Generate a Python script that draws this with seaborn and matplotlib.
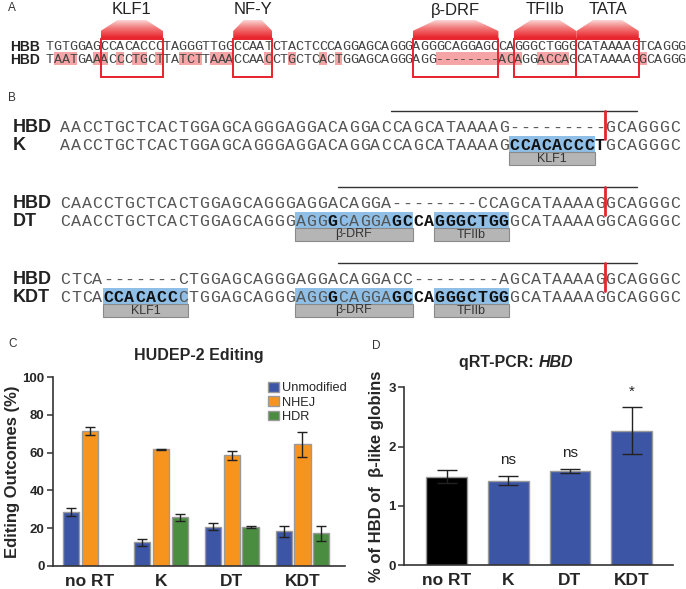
import numpy as np
import pandas as pd
import matplotlib
matplotlib.use("Agg")
import matplotlib.pyplot as plt
import seaborn as sns
from matplotlib.patches import Rectangle, Polygon
from matplotlib.colors import LinearSegmentedColormap

sns.set_theme(style="ticks")
plt.rcParams['font.family'] = ['Liberation Sans', 'DejaVu Sans']

# ---- panel A: promoter alignment ----
hbb_seq = ("TGTGGAG" "CCACACCC" "TAGGGTTGG" "CCAAT" "CTACTCCCAGGAGCAGGG"
           "AGGGCAGGAGC" "CA" "GGGCTGGG" "CATAAAAG" "TCAGGG")
hbd_seq = ("TAATGAA" "ACCCTGCT" "TATCTTAAA" "CCAAC" "CTGCTCACTGGAGCAGGG"
           "AGG--------" "AC" "AGGACCAG" "CATAAAAG" "GCAGGG")
motifs = ["KLF1", "NF-Y", "β-DRF", "TFIIb", "TATA"]
motif_start = [7, 24, 47, 60, 68]
motif_end = [15, 29, 58, 68, 76]

# ---- panel B: edited alleles (text, style) n=normal h=blue b=bold bh=bold+blue ----
block_names = ["K", "DT", "KDT"]
hbd_rows = [
    "AACCTGCTCACTGGAGCAGGGAGGACAGGACCAGCATAAAAG---------GCAGGGC",
    "CAACCTGCTCACTGGAGCAGGGAGGACAGGA--------CCAGCATAAAAGGCAGGGC",
    "CTCA-------CTGGAGCAGGGAGGACAGGACC--------AGCATAAAAGGCAGGGC",
]
edit_rows = [
    [("AACCTGCTCACTGGAGCAGGGAGGACAGGACCAGCATAAAAG", "n"), ("CCACACCC", "bh"),
     ("T", "b"), ("GCAGGGC", "n")],
    [("CAACCTGCTCACTGGAGCAGGG", "n"), ("AGG", "h"), ("G", "bh"), ("CAGGA", "h"),
     ("GC", "bh"), ("CA", "b"), ("GGGCTGG", "bh"), ("GCATAAAAGGCAGGGC", "n")],
    [("CTCA", "n"), ("CCACACC", "bh"), ("C", "h"), ("TGGAGCAGGG", "n"), ("AGG", "h"),
     ("G", "bh"), ("CAGGA", "h"), ("GC", "bh"), ("CA", "b"), ("GGGCTGG", "bh"),
     ("GCATAAAAGGCAGGGC", "n")],
]
block_tags = [
    [("KLF1", 42, 50)],
    [("β-DRF", 22, 33), ("TFIIb", 35, 42)],
    [("KLF1", 4, 12), ("β-DRF", 22, 33), ("TFIIb", 35, 42)],
]
overline_cols = [(31, 54), (26, 54), (26, 54)]
cut_col = 51

# ---- panel C: editing outcomes ----
samples = ["no RT", "K", "DT", "KDT"]
outcomes = ["Unmodified", "NHEJ", "HDR"]
unmod_mean = [28.7, 12.5, 20.8, 18.3]
unmod_err = [2.2, 1.7, 2.0, 2.8]
nhej_mean = [71.5, 61.8, 58.5, 64.4]
nhej_err = [2.2, 0.3, 2.3, 6.6]
hdr_mean = [0.0, 25.8, 20.6, 17.3]
hdr_err = [0.0, 1.9, 0.5, 3.9]

# ---- panel D: qRT-PCR ----
qpcr_mean = [1.49, 1.42, 1.58, 2.27]
qpcr_err = [0.11, 0.075, 0.035, 0.39]
qpcr_sig = ["", "ns", "ns", "*"]

blue = "#3d55a5"
orange = "#f7941d"
green = "#4b8d40"
red = "#e8232b"
pink = "#f5a5a5"
lightblue = "#8fbfe7"
mono = "Liberation Mono"

fig = plt.figure(figsize=(6.86, 5.89), dpi=100)
ax0 = fig.add_axes([0, 0, 1, 1])
ax0.patch.set_visible(False)

# panel letters
for lab, x, y in [("A", 8, 8), ("B", 8, 98), ("C", 8, 344), ("D", 372, 346)]:
    ax0.text(x, y, lab, fontsize=8.5, color="#333333", va="center")

# ---- A ----
a_x0, a_cw = 46, 7.8
a_y = [47, 60]
ax0.text(10, a_y[0], "HBB", fontsize=10, weight="bold", va="center", color="#222")
ax0.text(10, a_y[1], "HBD", fontsize=10, weight="bold", va="center", color="#222")
for i, (c1, c2) in enumerate(zip(hbb_seq, hbd_seq)):
    xc = a_x0 + (i + 0.5) * a_cw
    if c1 != c2:
        ax0.add_patch(Rectangle((a_x0 + i * a_cw, a_y[1] - 8), a_cw, 13,
                                facecolor=pink, edgecolor="none", zorder=1))
    ax0.text(xc, a_y[0], c1, ha="center", va="center", family=mono,
             fontsize=9.6, color="#444444", zorder=3)
    ax0.text(xc, a_y[1], c2, ha="center", va="center", family=mono,
             fontsize=9.6, color="#444444", zorder=3)

grad = LinearSegmentedColormap.from_list("fade", ["#fde6e6", "#f27c7c", red])
gimg = np.linspace(0, 1, 100).reshape(-1, 1) ** 0.9
for name, s, e in zip(motifs, motif_start, motif_end):
    x0 = a_x0 + s * a_cw
    x1 = a_x0 + e * a_cw
    ax0.add_patch(Rectangle((x0, 38.5), x1 - x0, 38.5, fill=False,
                            edgecolor=red, lw=1.4, zorder=4))
    inset = 0.27 * (x1 - x0)
    poly = Polygon([(x0, 38.5), (x1, 38.5), (x1, 31), (x1 - inset, 20),
                    (x0 + inset, 20), (x0, 31)], closed=True,
                   transform=ax0.transData)
    im = ax0.imshow(gimg, cmap=grad, extent=(x0, x1, 38.5, 20), aspect="auto",
                    origin="upper", zorder=2)
    im.set_clip_path(poly)
    ax0.text((x0 + x1) / 2, 10, name, ha="center", va="center", fontsize=12,
             color="#222")

# ---- B ----
b_x0, b_cw = 60, 10.69
hbd_y = [128, 204, 280]
for k in range(3):
    y1 = hbd_y[k]
    y2 = y1 + 17
    ax0.text(13, y1, "HBD", fontsize=13, weight="bold", va="center", color="#222")
    ax0.text(13, y2, block_names[k], fontsize=13, weight="bold", va="center",
             color="#222")
    for i, ch in enumerate(hbd_rows[k]):
        ax0.text(b_x0 + (i + 0.5) * b_cw, y1, ch, ha="center", va="center",
                 family=mono, fontsize=12, color="#555555")
    i = 0
    for seg, st in edit_rows[k]:
        for ch in seg:
            if "h" in st:
                ax0.add_patch(Rectangle((b_x0 + i * b_cw, y2 - 9), b_cw, 16,
                                        facecolor=lightblue, edgecolor="none",
                                        zorder=1))
            bold = "b" in st
            ax0.text(b_x0 + (i + 0.5) * b_cw, y2, ch, ha="center", va="center",
                     family=mono, fontsize=12, zorder=3,
                     weight="bold" if bold else "normal",
                     color="#111111" if bold else "#555555")
            i += 1
    for name, s, e in block_tags[k]:
        ax0.add_patch(Rectangle((b_x0 + s * b_cw, y2 + 7), (e - s) * b_cw, 13,
                                facecolor="#b5b5b5", edgecolor="#8a8a8a",
                                lw=0.8, zorder=2))
        ax0.text(b_x0 + (s + e) / 2 * b_cw, y2 + 13.5, name, ha="center",
                 va="center", fontsize=9, color="#333333", zorder=3)
    oc0, oc1 = overline_cols[k]
    ax0.plot([b_x0 + oc0 * b_cw, b_x0 + oc1 * b_cw], [y1 - 17, y1 - 17],
             color="#333333", lw=1)
    ax0.plot([b_x0 + cut_col * b_cw] * 2, [y1 - 17, y1 + 11], color=red,
             lw=2, zorder=5)

ax0.set_xlim(0, 686)
ax0.set_ylim(589, 0)
ax0.axis("off")

# ---- C ----
axC = fig.add_axes([53 / 686, 23 / 589, 292 / 686, 189 / 589])
edit_df = pd.DataFrame({
    "sample": samples * 3,
    "outcome": np.repeat(outcomes, len(samples)),
    "value": unmod_mean + nhej_mean + hdr_mean,
})
sns.barplot(data=edit_df, x="sample", y="value", hue="outcome", order=samples,
            hue_order=outcomes, palette=[blue, orange, green], width=0.8,
            gap=0.15, errorbar=None, edgecolor="#9a9a9a", linewidth=1,
            saturation=1, ax=axC)
for cont, err in zip(axC.containers, [unmod_err, nhej_err, hdr_err]):
    for bar, e in zip(cont, err):
        h = bar.get_height()
        if h == 0:
            bar.set_visible(False)
            continue
        axC.errorbar(bar.get_x() + bar.get_width() / 2, h, yerr=e, fmt="none",
                     ecolor="#222222", elinewidth=1, capsize=3.5, capthick=1)
axC.set_ylim(0, 100)
axC.set_xlim(-0.52, 3.6)
axC.set_yticks([0, 20, 40, 60, 80, 100])
axC.set_xlabel("")
axC.set_ylabel("Editing Outcomes (%)", fontsize=12, weight="bold", labelpad=2)
axC.set_title("HUDEP-2 Editing", fontsize=11.5, weight="bold", pad=12)
handles, labels = axC.get_legend_handles_labels()
axC.legend(handles, labels, loc="upper left", bbox_to_anchor=(0.72, 1.0),
           frameon=False, fontsize=9.2, handlelength=0.8, handleheight=0.8,
           handletextpad=0.3, labelspacing=0.15, borderaxespad=0)

# ---- D ----
axD = fig.add_axes([404 / 686, 24 / 589, 269 / 686, 177.7 / 589])
qpcr_df = pd.DataFrame({"sample": samples, "value": qpcr_mean})
sns.barplot(data=qpcr_df, x="sample", y="value", hue="sample", order=samples,
            palette=["#000000", blue, blue, blue], width=0.66, legend=False,
            errorbar=None, edgecolor="#9a9a9a", linewidth=1, saturation=1,
            ax=axD)
for bar, e, sig in zip(axD.patches, qpcr_err, qpcr_sig):
    xc = bar.get_x() + bar.get_width() / 2
    h = bar.get_height()
    axD.errorbar(xc, h, yerr=e, fmt="none", ecolor="#222222", elinewidth=1,
                 capsize=7, capthick=1)
    if sig:
        axD.text(xc, h + e + 0.27, sig, ha="center", va="center", fontsize=11,
                 color="#222")
axD.set_ylim(0, 3)
axD.set_xlim(-0.69, 3.67)
axD.set_yticks([0, 1, 2, 3])
axD.set_xlabel("")
axD.set_ylabel("% of HBD of  β-like globins", fontsize=12, weight="bold",
               labelpad=3)
t1 = axD.text(0.5, 1.1, "qRT-PCR: ", transform=axD.transAxes, ha="right",
              va="bottom", fontsize=11.5, weight="bold")
axD.annotate("HBD", xy=(1, 0), xycoords=t1, va="bottom", fontsize=11.5,
             weight="bold", style="italic")

for ax in (axC, axD):
    sns.despine(ax=ax)
    for sp in ("left", "bottom"):
        ax.spines[sp].set_color("#333333")
        ax.spines[sp].set_linewidth(1.2)
    ax.tick_params(axis="y", labelsize=9.5, length=4, width=1.1, pad=2,
                   color="#333333")
    ax.tick_params(axis="x", labelsize=12.5, length=0, pad=6)
    for lab in ax.get_yticklabels() + ax.get_xticklabels():
        lab.set_fontweight("bold")

fig.savefig("out.png", dpi=100)
